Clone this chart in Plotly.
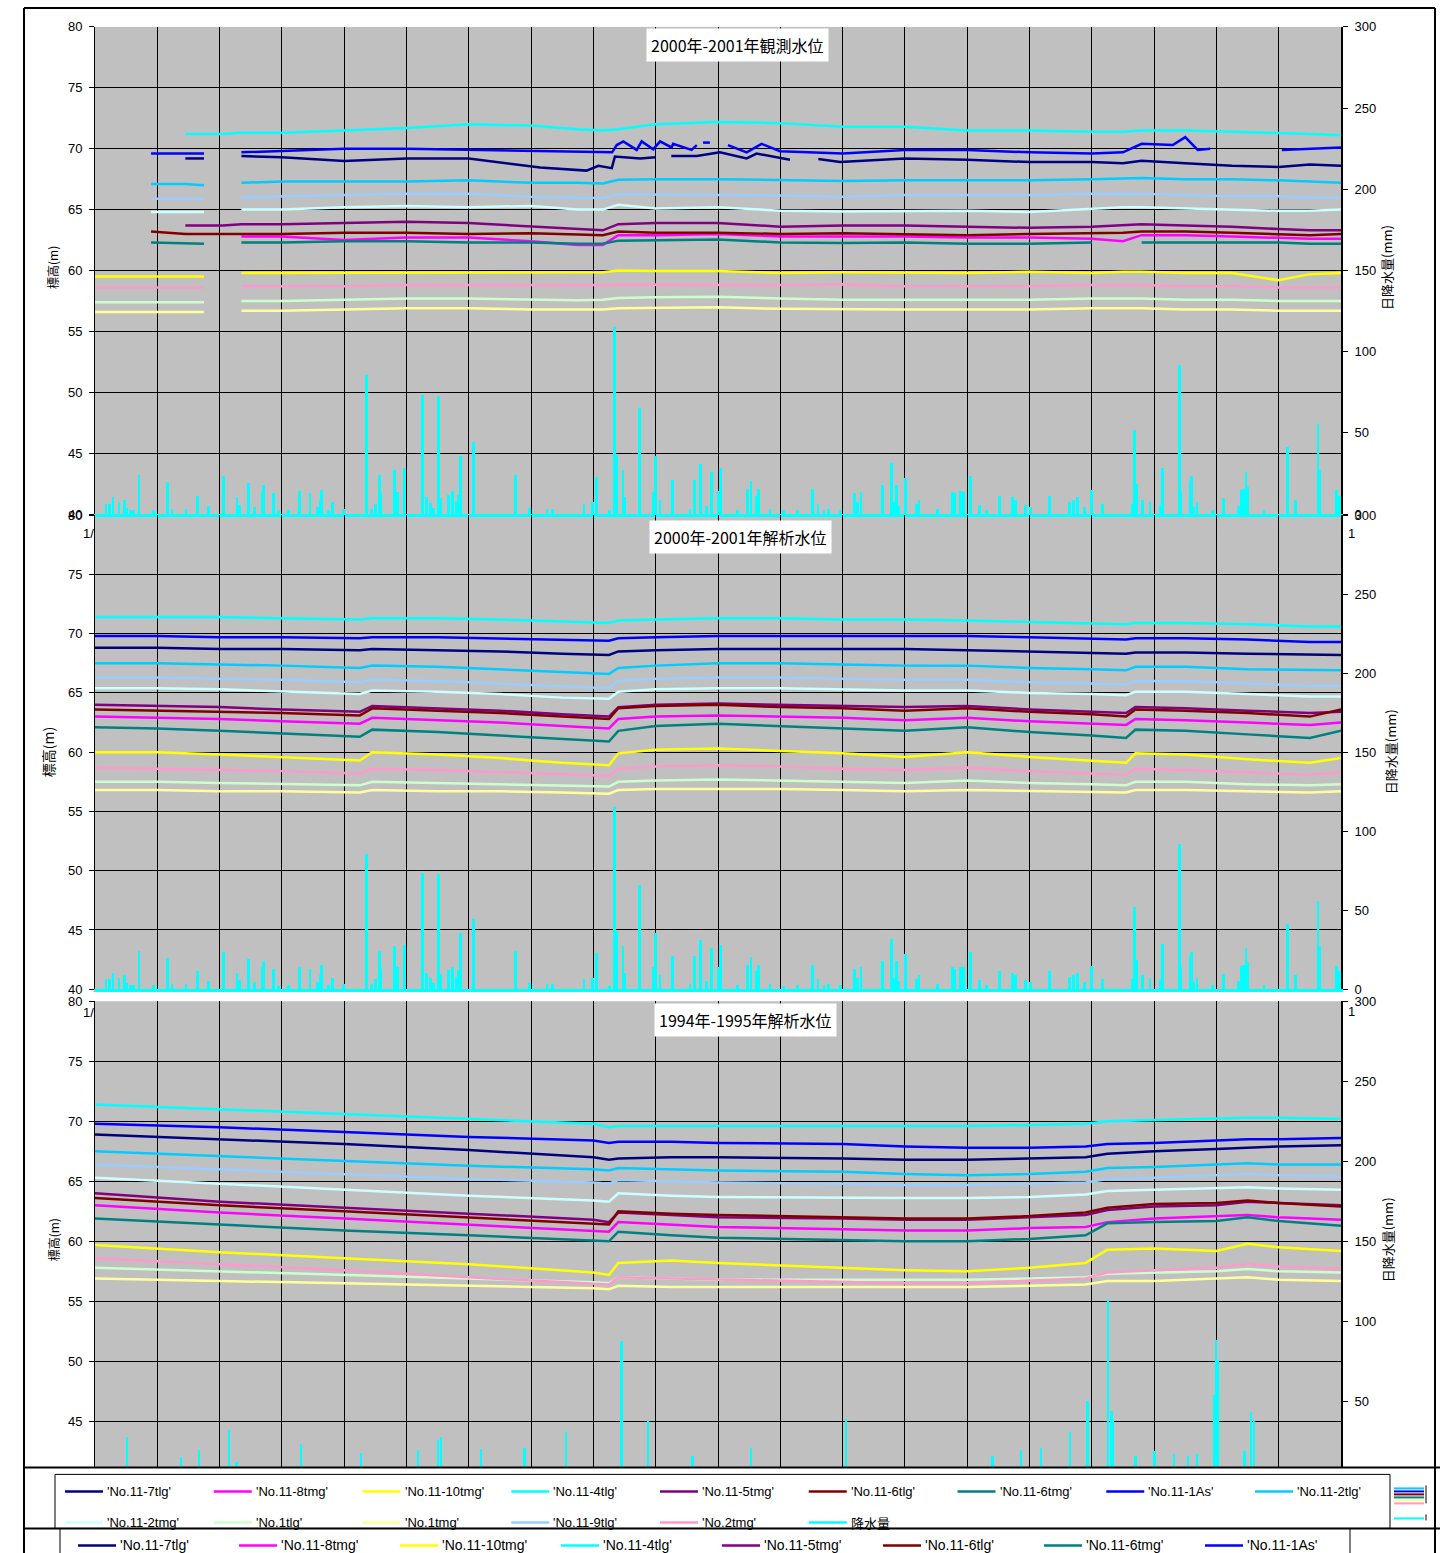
import plotly.graph_objects as go

W, H = 1452, 1553

# ---------------- series meta ----------------
names = ["'No.11-7tlg'", "'No.11-8tmg'", "'No.11-10tmg'", "'No.11-4tlg'", "'No.11-5tmg'",
         "'No.11-6tlg'", "'No.11-6tmg'", "'No.11-1As'", "'No.11-2tlg'", "'No.11-2tmg'",
         "'No.1tlg'", "'No.1tmg'", "'No.11-9tlg'", "'No.2tmg'", "降水量"]
colors = ["#000080", "#FF00FF", "#FFFF00", "#00FFFF", "#800080",
          "#800000", "#008080", "#0000FF", "#00CCFF", "#CCFFFF",
          "#CCFFCC", "#FFFF99", "#99CCFF", "#FF99CC", "#00FFFF"]

# ---------------- panel 1: 2000-2001 observed ----------------
days1 = [0, 18, 29, 35, 41, 47, 60, 80, 100, 120, 140, 155, 163, 168, 180, 200, 220, 240,
         260, 280, 300, 320, 330, 336, 350, 365, 380, 390, 400]
p1_7tlg_days = [29, 35, 36, 47, 60, 80, 100, 120, 142.9, 157.8, 161.6, 165.9, 166.9, 175, 180, 180.5,
                185, 193.2, 200.6, 209.2, 212.4, 223.1, 223.5, 232.2, 239.2, 260, 280, 300, 320, 330,
                336, 350, 365, 380, 390, 400]
p1_7tlg = [69.2, 69.2, None, 69.4, 69.3, 69.0, 69.2, 69.2, 68.45, 68.2, 68.6, 68.4, 69.35, 69.2, 69.3,
           None, 69.4, 69.4, 69.7, 69.2, 69.6, 69.1, None, 69.15, 68.9, 69.2, 69.1, 68.9, 68.9, 68.8,
           69.0, 68.8, 68.6, 68.5, 68.7, 68.6]
p1_8tmg = [None, None, None, None, None, 62.8, 62.8, 62.5, 62.7, 62.7, 62.4, 62.1, 62.1, 62.9, 62.9,
           63.0, 62.8, 62.8, 62.8, 62.7, 62.7, 62.6, 62.4, 62.9, 62.9, 62.8, 62.7, 62.6, 62.6]
p1_10tmg = [59.5, 59.5, 59.5, 59.5, None, 59.8, 59.8, 59.8, 59.8, 59.8, 59.8, 59.8, 59.85, 60.0, 59.95,
            59.95, 59.8, 59.85, 59.8, 59.8, 59.9, 59.8, 59.9, 59.9, 59.8, 59.8, 59.2, 59.7, 59.8]
p1_4tlg = [None, None, 71.2, 71.2, 71.2, 71.3, 71.3, 71.5, 71.7, 72.0, 71.9, 71.6, 71.5, 71.6, 72.0,
           72.2, 72.1, 71.8, 71.8, 71.5, 71.5, 71.4, 71.4, 71.5, 71.5, 71.4, 71.3, 71.2, 71.1]
p1_5tmg = [None, None, 63.7, 63.7, 63.7, 63.8, 63.8, 63.9, 64.0, 63.9, 63.6, 63.4, 63.3, 63.8, 63.9,
           63.9, 63.6, 63.7, 63.7, 63.6, 63.5, 63.6, 63.7, 63.8, 63.7, 63.6, 63.4, 63.3, 63.3]
p1_6tlg = [None, 63.2, 63.0, 63.0, 63.0, 63.0, 63.0, 63.1, 63.1, 63.0, 63.05, 62.95, 62.9, 63.2, 63.1,
           63.1, 63.0, 63.05, 63.0, 62.9, 63.0, 63.1, 63.1, 63.2, 63.2, 63.1, 63.0, 62.9, 63.0]
p1_6tmg = [None, 62.3, 62.2, 62.2, None, 62.3, 62.3, 62.4, 62.4, 62.3, 62.3, 62.2, 62.2, 62.45, 62.5,
           62.55, 62.3, 62.25, 62.3, 62.2, 62.2, 62.3, None, 62.3, 62.3, 62.3, 62.3, 62.2, 62.2]
p1_1As_days = [18, 35, 36, 47, 60, 80, 100, 120, 140, 155, 166, 167.5, 169.6, 173.9, 175.5, 179.2, 181.4,
               185.1, 185.6, 191.5, 193.2, 193.6, 195.2, 197.4, 197.5, 203.2, 209.2, 214, 219.9, 240,
               260, 280, 300, 320, 330, 336, 346, 350, 354, 358, 359, 381, 390, 400]
p1_1As = [69.6, 69.6, None, 69.7, 69.8, 70.0, 70.0, 69.9, 69.8, 69.7, 69.7, 70.3, 70.6, 69.9, 70.6,
          69.95, 70.6, 70.1, 70.4, 69.9, 70.3, None, 70.5, 70.5, None, 70.3, 69.7, 70.4, 69.8, 69.6,
          69.9, 69.9, 69.7, 69.6, 69.7, 70.4, 70.3, 70.95, 69.9, 70.0, None, 69.9, 70.0, 70.1]
p1_2tlg = [None, 67.1, 67.1, 67.0, None, 67.2, 67.3, 67.3, 67.3, 67.4, 67.2, 67.2, 67.15, 67.45, 67.5,
           67.5, 67.4, 67.35, 67.4, 67.4, 67.4, 67.5, 67.6, 67.6, 67.5, 67.5, 67.4, 67.3, 67.2]
p1_2tmg = [None, 64.8, 64.8, 64.8, None, 65.0, 65.0, 65.2, 65.3, 65.2, 65.3, 65.0, 65.0, 65.4, 65.1,
           65.2, 64.9, 64.85, 64.9, 64.9, 64.8, 65.1, 65.2, 65.2, 65.1, 65.0, 64.9, 64.9, 65.0]
p1_1tlg = [57.4, 57.4, 57.4, 57.4, None, 57.5, 57.5, 57.6, 57.7, 57.7, 57.6, 57.55, 57.6, 57.75, 57.8,
           57.85, 57.7, 57.6, 57.6, 57.6, 57.6, 57.7, 57.7, 57.7, 57.6, 57.6, 57.5, 57.5, 57.5]
p1_1tmg = [56.6, 56.6, 56.6, 56.6, None, 56.7, 56.7, 56.8, 56.9, 56.9, 56.8, 56.8, 56.8, 56.9, 56.95,
           56.98, 56.85, 56.8, 56.8, 56.8, 56.8, 56.9, 56.9, 56.9, 56.8, 56.8, 56.7, 56.7, 56.7]
p1_9tlg = [None, 65.9, 65.9, 65.9, None, 66.0, 66.1, 66.2, 66.3, 66.3, 66.05, 66.0, 65.95, 66.26, 66.25,
           66.2, 66.15, 66.06, 66.2, 66.2, 66.2, 66.3, 66.3, 66.3, 66.2, 66.1, 66.1, 66.0, 66.0]
p1_2tmg_b = [58.6, 58.6, 58.6, 58.6, None, 58.7, 58.7, 58.7, 58.8, 58.8, 58.78, 58.75, 58.8, 58.85,
             58.85, 58.85, 58.8, 58.88, 58.7, 58.7, 58.7, 58.8, 58.8, 58.8, 58.7, 58.7, 58.6, 58.6, 58.6]

# ---------------- panel 2: 2000-2001 analysed ----------------
days2 = [0, 20, 40, 60, 85, 89, 110, 130, 150, 165, 168, 180, 200, 220, 240, 260, 280, 300, 320,
         331, 334, 350, 370, 390, 400]
p2_7tlg = [68.8, 68.8, 68.7, 68.7, 68.6, 68.7, 68.6, 68.5, 68.3, 68.2, 68.5, 68.6, 68.7, 68.7, 68.7,
           68.7, 68.6, 68.5, 68.4, 68.3, 68.4, 68.4, 68.3, 68.2, 68.2]
p2_8tmg = [63.0, 62.9, 62.8, 62.6, 62.4, 62.9, 62.7, 62.5, 62.2, 62.0, 62.8, 63.0, 63.1, 63.0, 62.9,
           62.7, 62.9, 62.6, 62.4, 62.3, 62.8, 62.7, 62.5, 62.3, 62.5]
p2_10tmg = [60.0, 60.0, 59.8, 59.6, 59.3, 60.0, 59.8, 59.5, 59.1, 58.9, 59.9, 60.2, 60.3, 60.1, 59.9,
            59.6, 60.0, 59.6, 59.3, 59.1, 59.9, 59.8, 59.4, 59.1, 59.5]
p2_4tlg = [71.4, 71.4, 71.4, 71.3, 71.2, 71.3, 71.3, 71.2, 71.0, 70.9, 71.1, 71.2, 71.3, 71.3, 71.2,
           71.2, 71.1, 71.0, 70.9, 70.8, 70.9, 70.9, 70.8, 70.6, 70.6]
p2_5tmg = [64.0, 63.9, 63.8, 63.6, 63.4, 63.9, 63.7, 63.5, 63.2, 63.0, 63.8, 64.0, 64.1, 64.0, 63.9,
           63.8, 63.9, 63.6, 63.4, 63.3, 63.8, 63.7, 63.5, 63.3, 63.4]
p2_6tlg = [63.6, 63.5, 63.4, 63.3, 63.1, 63.7, 63.5, 63.3, 63.0, 62.8, 63.7, 63.9, 64.0, 63.8, 63.7,
           63.5, 63.7, 63.4, 63.2, 63.0, 63.6, 63.5, 63.3, 63.0, 63.6]
p2_6tmg = [62.1, 62.0, 61.8, 61.6, 61.3, 61.9, 61.7, 61.4, 61.1, 60.9, 61.8, 62.2, 62.4, 62.2, 62.0,
           61.8, 62.1, 61.7, 61.4, 61.2, 61.9, 61.8, 61.5, 61.2, 61.8]
p2_1As = [69.8, 69.8, 69.7, 69.7, 69.6, 69.7, 69.7, 69.6, 69.5, 69.4, 69.6, 69.7, 69.8, 69.8, 69.8,
          69.8, 69.8, 69.7, 69.6, 69.5, 69.6, 69.6, 69.5, 69.3, 69.3]
p2_2tlg = [67.5, 67.5, 67.4, 67.3, 67.1, 67.3, 67.2, 67.0, 66.8, 66.6, 67.1, 67.3, 67.5, 67.5, 67.4,
           67.3, 67.3, 67.1, 67.0, 66.9, 67.2, 67.2, 67.0, 66.9, 66.9]
p2_2tmg = [65.4, 65.4, 65.3, 65.1, 64.9, 65.2, 65.1, 64.9, 64.6, 64.5, 65.1, 65.3, 65.4, 65.4, 65.3,
           65.2, 65.2, 65.0, 64.9, 64.8, 65.1, 65.1, 64.9, 64.7, 64.7]
p2_1tlg = [57.5, 57.5, 57.4, 57.3, 57.2, 57.5, 57.4, 57.3, 57.2, 57.1, 57.5, 57.6, 57.7, 57.6, 57.5,
           57.4, 57.6, 57.4, 57.3, 57.2, 57.5, 57.5, 57.3, 57.2, 57.3]
p2_1tmg = [56.8, 56.8, 56.7, 56.7, 56.6, 56.8, 56.7, 56.7, 56.6, 56.5, 56.8, 56.9, 56.9, 56.9, 56.8,
           56.7, 56.8, 56.7, 56.6, 56.6, 56.8, 56.8, 56.7, 56.6, 56.7]
p2_9tlg = [66.3, 66.3, 66.2, 66.1, 65.9, 66.1, 66.0, 65.8, 65.6, 65.4, 66.0, 66.2, 66.3, 66.3, 66.2,
           66.1, 66.1, 65.9, 65.8, 65.7, 66.0, 66.0, 65.8, 65.6, 65.6]
p2_2tmg_b = [58.7, 58.6, 58.5, 58.4, 58.2, 58.6, 58.5, 58.3, 58.1, 58.0, 58.6, 58.8, 58.9, 58.8, 58.6,
             58.5, 58.7, 58.4, 58.2, 58.1, 58.6, 58.5, 58.3, 58.1, 58.3]

# ---------------- panel 3: 1994-1995 analysed ----------------
days3 = [0, 40, 80, 120, 160, 165, 168, 185, 200, 240, 260, 280, 300, 318, 325, 340, 360, 370, 380, 400]
p3_7tlg = [68.9, 68.5, 68.1, 67.6, 67.0, 66.8, 66.9, 67.0, 67.0, 66.9, 66.8, 66.8, 66.9, 67.0, 67.3,
           67.5, 67.7, 67.8, 67.9, 68.0]
p3_8tmg = [63.0, 62.4, 61.9, 61.4, 60.9, 60.8, 61.6, 61.4, 61.2, 61.0, 60.9, 60.9, 61.1, 61.2, 61.6,
           61.9, 62.1, 62.2, 62.0, 61.8]
p3_10tmg = [59.7, 59.1, 58.6, 58.1, 57.4, 57.2, 58.2, 58.4, 58.2, 57.8, 57.6, 57.5, 57.8, 58.2, 59.3,
            59.4, 59.2, 59.8, 59.5, 59.2]
p3_4tlg = [71.4, 71.0, 70.6, 70.2, 69.8, 69.5, 69.6, 69.6, 69.6, 69.6, 69.6, 69.6, 69.7, 69.8, 70.0,
           70.1, 70.2, 70.3, 70.3, 70.2]
p3_5tmg = [64.0, 63.3, 62.8, 62.3, 61.8, 61.6, 62.4, 62.2, 62.0, 61.9, 61.8, 61.8, 62.0, 62.2, 62.6,
           62.9, 63.0, 63.3, 63.2, 63.0]
p3_6tlg = [63.6, 63.0, 62.5, 62.0, 61.5, 61.4, 62.5, 62.3, 62.2, 62.0, 61.9, 61.9, 62.1, 62.4, 62.8,
           63.1, 63.2, 63.4, 63.2, 62.9]
p3_6tmg = [61.9, 61.4, 60.9, 60.5, 60.1, 60.0, 60.8, 60.5, 60.3, 60.1, 60.0, 60.0, 60.2, 60.5, 61.5,
           61.6, 61.7, 62.0, 61.7, 61.3]
p3_1As = [69.8, 69.5, 69.1, 68.7, 68.4, 68.2, 68.3, 68.3, 68.2, 68.1, 67.9, 67.8, 67.8, 67.9, 68.1,
          68.2, 68.4, 68.5, 68.5, 68.6]
p3_2tlg = [67.5, 67.1, 66.7, 66.3, 66.0, 65.9, 66.1, 66.0, 65.9, 65.8, 65.6, 65.5, 65.6, 65.8, 66.1,
           66.2, 66.4, 66.5, 66.4, 66.4]
p3_2tmg = [65.3, 64.8, 64.3, 63.8, 63.4, 63.3, 64.0, 63.8, 63.7, 63.6, 63.6, 63.6, 63.7, 63.9, 64.2,
           64.3, 64.4, 64.5, 64.4, 64.3]
p3_1tlg = [57.8, 57.5, 57.2, 56.9, 56.6, 56.5, 57.0, 56.9, 56.8, 56.8, 56.8, 56.8, 56.9, 57.0, 57.3,
           57.4, 57.5, 57.7, 57.5, 57.4]
p3_1tmg = [56.9, 56.7, 56.5, 56.3, 56.1, 56.0, 56.3, 56.2, 56.2, 56.2, 56.2, 56.2, 56.3, 56.4, 56.7,
           56.7, 56.9, 57.0, 56.8, 56.7]
p3_9tlg = [66.4, 66.0, 65.6, 65.2, 64.9, 64.8, 65.1, 65.0, 64.9, 64.8, 64.7, 64.7, 64.8, 64.9, 65.2,
           65.3, 65.5, 65.6, 65.5, 65.4]
p3_2tmg_b = [58.6, 58.1, 57.6, 57.0, 56.5, 56.4, 57.0, 56.9, 56.8, 56.6, 56.5, 56.5, 56.7, 56.9, 57.4,
             57.6, 57.8, 58.1, 57.9, 57.7]

# ---------------- daily rainfall (mm) ----------------
rain_day_a = [3.5, 4.7, 5.8, 7.7, 9.4, 10.3, 11.5, 12.4, 14.1, 18.8, 23.3, 24.7, 29.2, 32.8, 36.5, 41.2,
              45.6, 46.5, 49.2, 51.2, 53.6, 54.1, 57.2, 59.0, 62.2, 65.6, 69.0, 71.4, 72.2, 72.7, 75.0,
              76.2, 79.9, 87.2, 88.7, 90.1, 91.3, 91.8, 96.2, 97.2, 99.4, 105.1, 106.4, 107.7, 108.7,
              110.3, 111.0, 113.6, 114.7, 116.0, 116.7, 117.4, 121.5, 135.1, 139.5, 145.1, 146.8, 157.0,
              159.6, 160.9, 165.1, 166.7, 167.6, 169.5, 170.1, 174.7, 179.2, 179.9, 181.4, 185.4, 191.0,
              192.4, 194.5, 196.2, 197.9, 200.0, 200.8, 206.2, 209.4, 210.6, 212.2, 213.1, 216.7, 220.9,
              225.6, 230.4, 232.1, 234.0, 235.5, 239.4, 243.8, 244.9, 245.9, 252.7, 255.8, 256.4, 257.3,
              258.0, 260.3, 263.6, 264.5, 270.5, 275.4, 275.9, 277.9, 278.7, 281.0, 284.0, 286.2, 290.4,
              294.5, 295.4, 298.7, 300.4, 306.5, 312.8, 314.2, 315.4, 317.7, 319.9, 323.5, 333.0, 333.7,
              334.4, 336.2, 338.7, 342.0, 342.6, 348.1, 348.5, 351.5, 351.9, 352.8, 353.8, 358.7, 362.3,
              367.0, 367.9, 368.7, 369.5, 370.0, 375.3, 382.8, 385.5, 392.6, 393.0, 398.5, 399.4]
rain_mm_a = [6.4, 6.4, 10.3, 7.2, 8.8, 3.7, 2.7, 2.7, 24.3, 2.7, 20.0, 3.0, 3.0, 11.3, 5.0, 23.7,
             10.5, 5.6, 19.1, 4.7, 13.8, 17.9, 13.0, 2.3, 2.7, 14.2, 13.0, 4.7, 8.8, 15.0, 2.7,
             7.2, 3.0, 85.6, 3.0, 6.4, 24.3, 13.0, 27.4, 13.8, 28.2, 73.5, 10.5, 6.8, 3.7,
             73.0, 9.9, 12.1, 14.2, 7.6, 11.9, 35.6, 44.7, 24.1, 3.7, 3.0, 3.0, 6.4,
             7.2, 22.8, 2.3, 115.4, 36.6, 27.4, 10.3, 65.6, 13.8, 35.6, 8.8, 21.2, 3.0,
             21.2, 30.9, 5.1, 26.1, 14.2, 28.2, 2.7, 15.4, 20.2, 11.3, 15.4, 3.0, 2.3,
             2.7, 15.4, 6.4, 2.7, 3.0, 2.7, 13.0, 7.2, 13.8, 17.9, 31.5, 7.2, 17.9,
             5.1, 22.4, 6.4, 8.8, 3.0, 13.8, 13.0, 14.2, 13.8, 23.7, 5.6, 2.7, 11.3,
             10.5, 8.8, 5.6, 4.7, 11.3, 7.6, 8.8, 10.5, 4.7, 14.6, 6.4, 6.4, 52.0,
             18.7, 8.8, 7.2, 5.6, 28.6, 91.6, 14.2, 20.2, 23.7, 4.7, 7.2, 2.7, 9.7,
             5.1, 14.6, 15.4, 26.1, 17.0, 2.7, 41.4, 8.8, 55.8, 27.4, 14.6, 11.3]

rain_day_b = [10.3, 27.6, 33.4, 43.0, 45.3, 66.1, 85.4, 103.7, 110.1, 111.1, 123.9, 138.0, 151.2,
              168.9, 177.5, 191.7, 210.6, 241.1, 288.0, 297.3, 303.7, 313.0, 318.5, 325.2, 326.2,
              326.8, 333.9, 340.0, 346.4, 350.9, 353.8, 359.2, 359.9, 360.5, 368.9, 371.1, 372.1]
rain_mm_b = [27.5, 15.0, 19.4, 32.0, 12.0, 23.0, 17.5, 19.4, 25.6, 27.5, 20.0, 21.0, 30.6,
             87.5, 38.0, 16.0, 21.0, 39.0, 16.0, 19.4, 20.6, 30.6, 50.0, 114.0, 44.0,
             38.0, 16.0, 19.0, 17.0, 16.0, 17.0, 54.0, 88.0, 76.0, 19.0, 43.0, 38.0]

left_ticks = [[40, 45, 50, 55, 60, 65, 70, 75, 80]] * 2 + [[45, 50, 55, 60, 65, 70, 75, 80]]
right_ticks = [[0, 50, 100, 150, 200, 250, 300]] * 2 + [[50, 100, 150, 200, 250, 300]]

# per panel: list of (x days, y values) in legend order, then rainfall
panels = [
    ([(p1_7tlg_days, p1_7tlg), (days1, p1_8tmg), (days1, p1_10tmg), (days1, p1_4tlg),
      (days1, p1_5tmg), (days1, p1_6tlg), (days1, p1_6tmg), (p1_1As_days, p1_1As), (days1, p1_2tlg),
      (days1, p1_2tmg), (days1, p1_1tlg), (days1, p1_1tmg), (days1, p1_9tlg), (days1, p1_2tmg_b)],
     rain_day_a, rain_mm_a),
    ([(days2, s) for s in [p2_7tlg, p2_8tmg, p2_10tmg, p2_4tlg, p2_5tmg, p2_6tlg, p2_6tmg, p2_1As,
                           p2_2tlg, p2_2tmg, p2_1tlg, p2_1tmg, p2_9tlg, p2_2tmg_b]],
     rain_day_a, rain_mm_a),
    ([(days3, s) for s in [p3_7tlg, p3_8tmg, p3_10tmg, p3_4tlg, p3_5tmg, p3_6tlg, p3_6tmg, p3_1As,
                           p3_2tlg, p3_2tmg, p3_1tlg, p3_1tmg, p3_9tlg, p3_2tmg_b]],
     rain_day_b, rain_mm_b),
]
titles = ["2000年-2001年観測水位", "2000年-2001年解析水位", "1994年-1995年解析水位"]

# page placement: the captured page maps figure pixel y to 7.1 + 0.990*y,
# so target pixel positions are converted back before use
Y_OFF, Y_SCALE = 7.1, 0.990

def fx(x):
    return x / W

def fy(y):
    return 1 - ((y - Y_OFF) / Y_SCALE) / H

plot_x0, plot_x1 = 95, 1341
panel_y = [(27, 514), (515, 989), (1001, 1481)]

LAT = "Liberation Sans, Arial, sans-serif"
CJK = "Noto Sans CJK JP, sans-serif"

fig = go.Figure()
layout = dict(width=W, height=H, margin=dict(l=0, r=0, t=0, b=0), autosize=False,
              paper_bgcolor="white", plot_bgcolor="#C0C0C0", showlegend=False,
              bargap=0, font=dict(family=LAT, size=13, color="#000000"))

for p, (series, rd, rm) in enumerate(panels):
    xa = "x" if p == 0 else f"x{p+1}"
    yl = "y" if p == 0 else f"y{2*p+1}"
    yr = f"y{2*p+2}"
    fig.add_trace(go.Bar(x=rd, y=rm, width=0.9, marker=dict(color="#00FFFF", line=dict(width=0)),
                         xaxis=xa, yaxis=yr, name=names[14], hoverinfo="skip"))
    for i, (dd, vals) in enumerate(series):
        fig.add_trace(go.Scatter(x=dd, y=vals, mode="lines", line=dict(color=colors[i], width=2.5),
                                 xaxis=xa, yaxis=yl, name=names[i], connectgaps=False))
    t, b = panel_y[p]
    xkey = "xaxis" if p == 0 else f"xaxis{p+1}"
    ylkey = "yaxis" if p == 0 else f"yaxis{2*p+1}"
    yrkey = f"yaxis{2*p+2}"
    layout[xkey] = dict(domain=[fx(plot_x0), fx(plot_x1)], range=[0, 400], dtick=20, tick0=0,
                        showgrid=True, gridcolor="#000000", gridwidth=1, showticklabels=False,
                        ticks="", zeroline=False, anchor=yl,
                        showline=(p < 2), linecolor="#00FFFF", linewidth=3)
    layout[ylkey] = dict(domain=[max(0, fy(b)), min(1, fy(t))], range=[40, 80], tickmode="array",
                         tickvals=left_ticks[p], anchor=xa,
                         showgrid=True, gridcolor="#000000", gridwidth=1, zeroline=False,
                         showline=True, linecolor="#000000", linewidth=1,
                         ticks="outside", ticklen=5, tickcolor="#000000",
                         ticklabelstandoff=4, tickfont=dict(family=LAT, size=13, color="#000"))
    layout[yrkey] = dict(overlaying=yl, side="right", range=[0, 300], tickmode="array",
                         tickvals=right_ticks[p], anchor=xa,
                         showgrid=False, zeroline=False, showline=True, linecolor="#000000",
                         linewidth=2, ticks="outside", ticklen=5, tickcolor="#000000",
                         ticklabelstandoff=4, tickfont=dict(family=LAT, size=13, color="#000"))

fig.update_layout(**layout)

shapes = []
annots = []

shapes.append(dict(type="rect", xref="paper", yref="paper", x0=fx(0), x1=fx(W), y0=-0.05, y1=fy(1467),
                   fillcolor="white", line=dict(width=0), layer="above"))

def hline(x0, x1, y, w=2, c="#000"):
    shapes.append(dict(type="line", xref="paper", yref="paper", x0=fx(x0), x1=fx(x1), y0=fy(y), y1=fy(y),
                       line=dict(color=c, width=w), layer="above"))

def vline(x, y0, y1, w=2, c="#000"):
    shapes.append(dict(type="line", xref="paper", yref="paper", x0=fx(x), x1=fx(x), y0=fy(y0), y1=fy(y1),
                       line=dict(color=c, width=w), layer="above"))

hline(24, 1435, 8)
vline(24, 8, H + 20)
vline(1435, 8, H + 20)
hline(24, 1440, 1467)
hline(24, 1440, 1528)
vline(60, 1528, H + 20, w=1)
vline(1350, 1528, H + 20, w=1)
shapes.append(dict(type="rect", xref="paper", yref="paper", x0=fx(55), x1=fx(1390), y0=fy(1528), y1=fy(1474),
                   line=dict(color="#000", width=1), fillcolor="rgba(0,0,0,0)", layer="above"))
frag = [(1488, "#00CCFF"), (1491, "#0000FF"), (1494, "#800000"), (1497, "#008080"),
        (1500, "#FFFF99"), (1503, "#FF99CC"), (1518, "#00FFFF")]
for yy, cc in frag:
    hline(1394, 1424, yy, w=2, c=cc)
vline(1426, 1485, 1503, w=1)
vline(1426, 1514, 1520, w=1)

def legend_item(x0, y, idx, size=13):
    hline(x0, x0 + 38, y, w=2.5, c=colors[idx])
    annots.append(dict(xref="paper", yref="paper", x=fx(x0 + 40), y=fy(y), text=names[idx],
                       showarrow=False, xanchor="left", yanchor="middle",
                       font=dict(family=CJK if idx == 14 else LAT, size=size, color="#000")))

for i in range(9):
    legend_item(65 + i * 148.75, 1491, i)
for i in range(6):
    legend_item(65 + i * 148.75, 1522, 9 + i)
for i in range(8):
    legend_item(78 + i * 161, 1545, i, size=14)

for (cx, cy), t in zip([(737, 45), (740, 537), (745, 1020)], titles):
    annots.append(dict(xref="paper", yref="paper", x=fx(cx), y=fy(cy), text=t, showarrow=False,
                       xanchor="center", yanchor="middle", bgcolor="white", borderpad=4,
                       font=dict(family=CJK, size=16, color="#000")))
for (lx, ly, ls), (rx, ry) in zip([(53, 268, 12), (48, 752, 14), (53, 1240, 12)],
                                  [(1387, 268), (1390, 752), (1387, 1240)]):
    annots.append(dict(xref="paper", yref="paper", x=fx(lx), y=fy(ly), text="標高(m)", textangle=-90,
                       showarrow=False, xanchor="center", yanchor="middle",
                       font=dict(family=CJK, size=ls, color="#000")))
    annots.append(dict(xref="paper", yref="paper", x=fx(rx), y=fy(ry), text="日降水量(mm)", textangle=-90,
                       showarrow=False, xanchor="center", yanchor="middle",
                       font=dict(family=CJK, size=13, color="#000")))
for (ax, ay, tx) in [(88, 533, "1/"), (1346, 533, "1"), (88, 1012, "1/"), (1346, 1011, "1")]:
    annots.append(dict(xref="paper", yref="paper", x=fx(ax), y=fy(ay), text=tx, showarrow=False,
                       xanchor="left" if tx == "1" else "center", yanchor="middle",
                       font=dict(family=LAT, size=13, color="#000")))

fig.update_layout(shapes=shapes, annotations=annots)
fig.write_html("out.html", default_width="1452px", default_height="1553px",
               config={"displayModeBar": False},
               post_script="document.body.style.margin='0';document.body.style.padding='0';")
